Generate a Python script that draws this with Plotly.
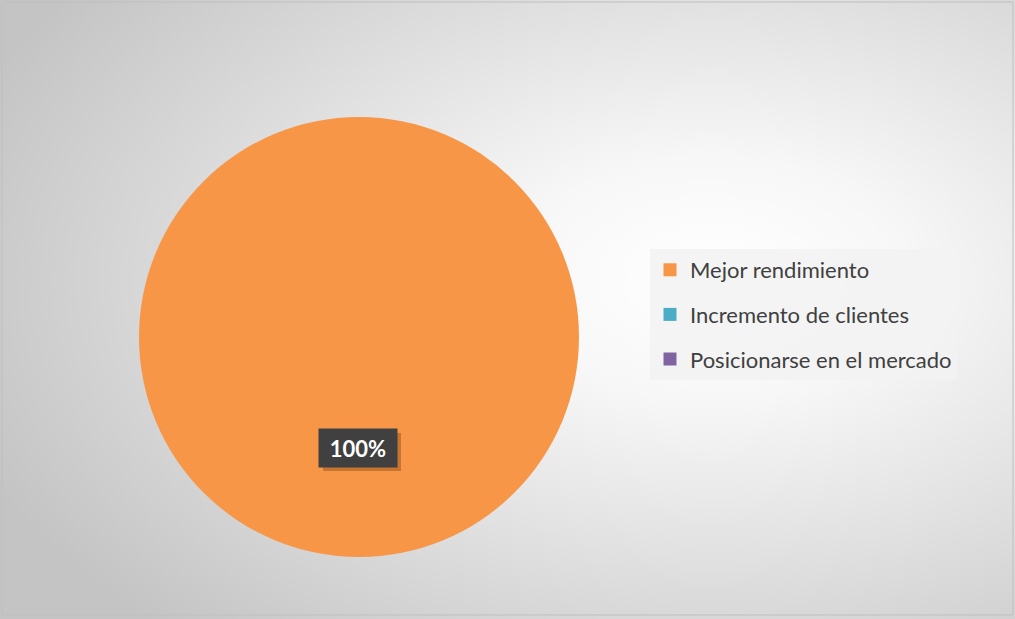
import base64
import plotly.graph_objects as go

# Datos
etiquetas = ["Mejor rendimiento", "Incremento de clientes", "Posicionarse en el mercado"]
valores = [100, 0, 0]
colores = ["#F79646", "#4BACC6", "#8064A2"]

W, H = 1015, 619

# Fondo con degradado radial (como el gráfico original de Excel)
svg = f"""<svg xmlns='http://www.w3.org/2000/svg' width='{W}' height='{H}'>
<defs><radialGradient id='g' cx='0.70' cy='0.45' r='0.78' fx='0.70' fy='0.45'>
<stop offset='0' stop-color='#ffffff'/>
<stop offset='0.25' stop-color='#f7f7f7'/>
<stop offset='1' stop-color='#c4c4c4'/>
</radialGradient></defs>
<rect width='{W}' height='{H}' fill='url(#g)'/>
</svg>"""
fondo = "data:image/svg+xml;base64," + base64.b64encode(svg.encode()).decode()

fig = go.Figure()
fig.add_trace(go.Pie(
    labels=etiquetas,
    values=valores,
    marker=dict(colors=colores),
    sort=False,
    direction="clockwise",
    textinfo="none",
    hoverinfo="label+percent",
    showlegend=False,
    domain=dict(x=[139 / W, 579 / W], y=[1 - 557 / H, 1 - 117 / H]),
))

# Leyenda (una entrada por categoría, con separación como en el original)
for i, (lab, col) in enumerate(zip(etiquetas, colores)):
    fig.add_trace(go.Scatter(
        x=[None], y=[None], mode="markers", name=lab,
        marker=dict(symbol="square", size=13, color=col),
        legendgroup=f"g{i}", showlegend=True, hoverinfo="skip",
    ))

pct = valores[0] / sum(valores)
lx, ly = 358 / W, 1 - 448 / H
fig.add_annotation(
    x=lx, y=ly, xref="paper", yref="paper",
    xanchor="center", yanchor="middle",
    text=f"<b>{pct:.0%}</b>", showarrow=False,
    font=dict(family="Lato", size=22, color="white"),
    bgcolor="#404040", width=66, height=26, borderpad=6,
)

fig.update_layout(
    width=W,
    height=H,
    margin=dict(l=0, r=0, t=0, b=0),
    paper_bgcolor="#d0d0d0",
    plot_bgcolor="rgba(0,0,0,0)",
    font=dict(family="Lato", color="#404040"),
    xaxis=dict(visible=False),
    yaxis=dict(visible=False),
    images=[dict(source=fondo, xref="paper", yref="paper", x=0, y=1,
                 sizex=1, sizey=1, sizing="stretch", layer="below")],
    legend=dict(
        x=650 / W, y=1 - 249 / H, xanchor="left", yanchor="top",
        bgcolor="rgba(242,242,242,0.85)",
        font=dict(family="Lato", size=22, color="#404040"),
        tracegroupgap=13,
        itemwidth=30,
    ),
    shapes=[
        dict(type="rect", xref="paper", yref="paper",
             x0=2 / W, x1=1 - 2 / W, y0=4 / H, y1=1 - 2 / H,
             line=dict(color="#bfbfbf", width=1)),
        # sombra de la etiqueta
        dict(type="rect", xref="paper", yref="paper",
             xsizemode="pixel", ysizemode="pixel", xanchor=lx, yanchor=ly,
             x0=-39 + 4, x1=39 + 4, y0=-19 - 4, y1=19 - 4,
             fillcolor="rgba(110,55,15,0.35)", line=dict(width=0), layer="above"),
    ],
)

fig.write_html("out.html", config={"displayModeBar": False},
               post_script="document.body.style.margin='0px';")
